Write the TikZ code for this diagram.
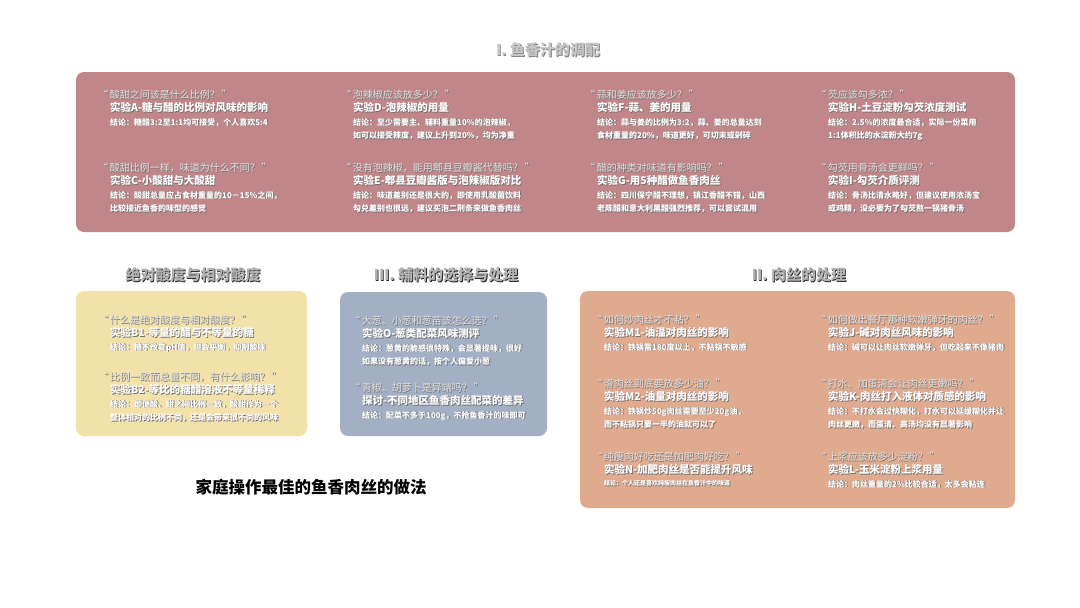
\documentclass[tikz,border=0pt]{standalone}
\usepackage{fontspec}
\setmainfont{Noto Sans CJK SC}
\usepackage{xcolor}
\usetikzlibrary{positioning}

\definecolor{saucepink}{HTML}{C1868A}
\definecolor{acidyellow}{HTML}{F3E1AA}
\definecolor{sideblue}{HTML}{A3AFC5}
\definecolor{meatorange}{HTML}{E0AA8F}

% text with a dark drop shadow
\newcommand\shd[2][black!55]{\leavevmode\rlap{\kern0.8pt\raisebox{-0.8pt}{\color{#1}#2}}#2}

\tikzset{
  panel/.style={rounded corners=8pt, inner sep=0pt, draw=none},
  heading/.style={inner sep=0pt, text=black!30, font=\fontsize{15}{18}\selectfont\bfseries},
  question/.style={anchor=west, inner sep=0pt, text=white!88!black, font=\fontsize{10}{11}\selectfont},
  exptitle/.style={anchor=west, inner sep=0pt, text=white, font=\fontsize{10.5}{12}\selectfont\bfseries},
  verdict/.style={anchor=north west, inner sep=0pt, align=left, text=white, font=\fontsize{8}{13.5}\selectfont\bfseries},
}

\begin{document}
\begin{tikzpicture}[x=1pt, y=-1pt]
\useasboundingbox (0,0) rectangle (1080,608);

% panels
\node[panel, fill=saucepink, minimum width=939pt, minimum height=160pt] (sauce) at (545.5,152) {};
\node[panel, fill=acidyellow, minimum width=231pt, minimum height=145pt] (acid) at (191.5,363.5) {};
\node[panel, fill=sideblue, minimum width=207pt, minimum height=144pt] (side) at (443.5,364) {};
\node[panel, fill=meatorange, minimum width=435pt, minimum height=217pt] (meat) at (797.5,399.5) {};

% headings
\node[heading, text=black!22] (sauce-h) at (548,50) {\shd[black!50]{I. 鱼香汁的调配}};
\node[heading] (acid-h) at (193,275) {\shd[black!85]{绝对酸度与相对酸度}};
\node[heading] (side-h) at (446,275) {\shd[black!85]{III. 辅料的选择与处理}};
\node[heading] (meat-h) at (799,275) {\shd[black!85]{II. 肉丝的处理}};
\node[font=\fontsize{16.5}{20}\selectfont\bfseries] (best) at (311,487) {家庭操作最佳的鱼香肉丝的做法};

% experiments
\foreach \nm/\xx/\yy/\ques/\ttl/\concl in {
  a/110/95/{酸甜之间该是什么比例？}/{实验A-糖与醋的比例对风味的影响}/{\shd{结论：糖醋3:2至1:1均可接受，个人喜欢5:4}},
  c/110/168/{酸甜比例一样，味道为什么不同？}/{实验C-小酸甜与大酸甜}/{\shd{结论：酸甜总量应占食材重量的10－15\%之间，}\\\shd{比较接近鱼香的味型的感觉}},
  d/353/95/{泡辣椒应该放多少？}/{实验D-泡辣椒的用量}/{\shd{结论：至少需要主、辅料重量10\%的泡辣椒，}\\\shd{如可以接受辣度，建议上升到20\%，均为净重}},
  e/353/168/{没有泡辣椒，能用郫县豆瓣酱代替吗？}/{实验E-郫县豆瓣酱版与泡辣椒版对比}/{\shd{结论：味道差别还是很大的，即使用乳酸菌饮料}\\\shd{勾兑差别也很远，建议买泡二荆条来做鱼香肉丝}},
  f/597/95/{蒜和姜应该放多少？}/{实验F-蒜、姜的用量}/{\shd{结论：蒜与姜的比例为3:2，蒜、姜的总量达到}\\\shd{食材重量的20\%，味道更好，可切末或剁碎}},
  g/597/168/{醋的种类对味道有影响吗？}/{实验G-用5种醋做鱼香肉丝}/{\shd{结论：四川保宁醋不理想，镇江香醋不错，山西}\\\shd{老陈醋和意大利黑醋强烈推荐，可以尝试混用}},
  h/828/95/{芡应该勾多浓？}/{实验H-土豆淀粉勾芡浓度测试}/{\shd{结论：2.5\%的浓度最合适，实际一份菜用}\\\shd{1:1体积比的水淀粉大约7g}},
  i/828/168/{勾芡用骨汤会更鲜吗？}/{实验I-勾芡介质评测}/{\shd{结论：骨汤比清水略好，但建议使用浓汤宝}\\\shd{或鸡精，没必要为了勾芡熬一锅猪骨汤}},
  bone/110/320/{什么是绝对酸度与相对酸度？}/{实验B1-等量的醋与不等量的糖}/{\shd{结论：糖不改变pH值，但会平衡，抑制酸味}},
  btwo/110/377/{比例一致而总量不同，有什么影响？}/{实验B2-等比的糖醋溶液不等量稀释}/{\shd{结论：即便酸、甜之间比例一致，酸甜作为一个}\\\shd{整体相对的比例不同，还是会带来很不同的风味}},
  o/362/321/{大葱、小葱和葱苗该怎么选？}/{实验O-葱类配菜风味测评}/{\shd{结论：葱黄的脆感很特殊，会显著提味，很好}\\\shd{如果没有葱黄的话，按个人偏爱小葱}},
  p/362/388/{青椒、胡萝卜是异端吗？}/{探讨-不同地区鱼香肉丝配菜的差异}/{\shd{结论：配菜不多于100g，不抢鱼香汁的味即可}},
  mone/604/320/{如何炒肉丝才不粘？}/{实验M1-油温对肉丝的影响}/{\shd{结论：铁锅需180度以上，不粘锅不敏感}},
  mtwo/604/384/{滑肉丝到底要放多少油？}/{实验M2-油量对肉丝的影响}/{\shd{结论：铁锅炒50g肉丝需要至少20g油，}\\\shd{而不粘锅只要一半的油就可以了}},
  n/604/457/{纯瘦肉好吃还是加肥肉好吃？}/{实验N-加肥肉丝是否能提升风味}/{\fontsize{6}{10}\selectfont\shd{结论：个人还是喜欢纯瘦肉丝在鱼香汁中的味道}},
  j/828/320/{如何做出餐厅那种软嫩弹牙的肉丝？}/{实验J-碱对肉丝风味的影响}/{\shd{结论：碱可以让肉丝软嫩弹牙，但吃起来不像猪肉}},
  k/828/384/{打水、加蛋清会让肉丝更嫩吗？}/{实验K-肉丝打入液体对质感的影响}/{\shd{结论：不打水会过快糊化，打水可以延缓糊化并让}\\\shd{肉丝更嫩，而蛋清、高汤均没有显著影响}},
  l/828/457/{上浆应该放多少淀粉？}/{实验L-玉米淀粉上浆用量}/{\shd{结论：肉丝重量的2\%比较合适，太多会粘连}}
} {
  \node[question] (\nm-q) at ({\xx-12},\yy) {\shd{“\,\ques\,”}};
  \node[exptitle] (\nm-t) at (\xx,{\yy+13}) {\shd{\ttl}};
  \node[verdict] (\nm-c) at (\xx,{\yy+23}) {\concl};
}
\end{tikzpicture}
\end{document}
